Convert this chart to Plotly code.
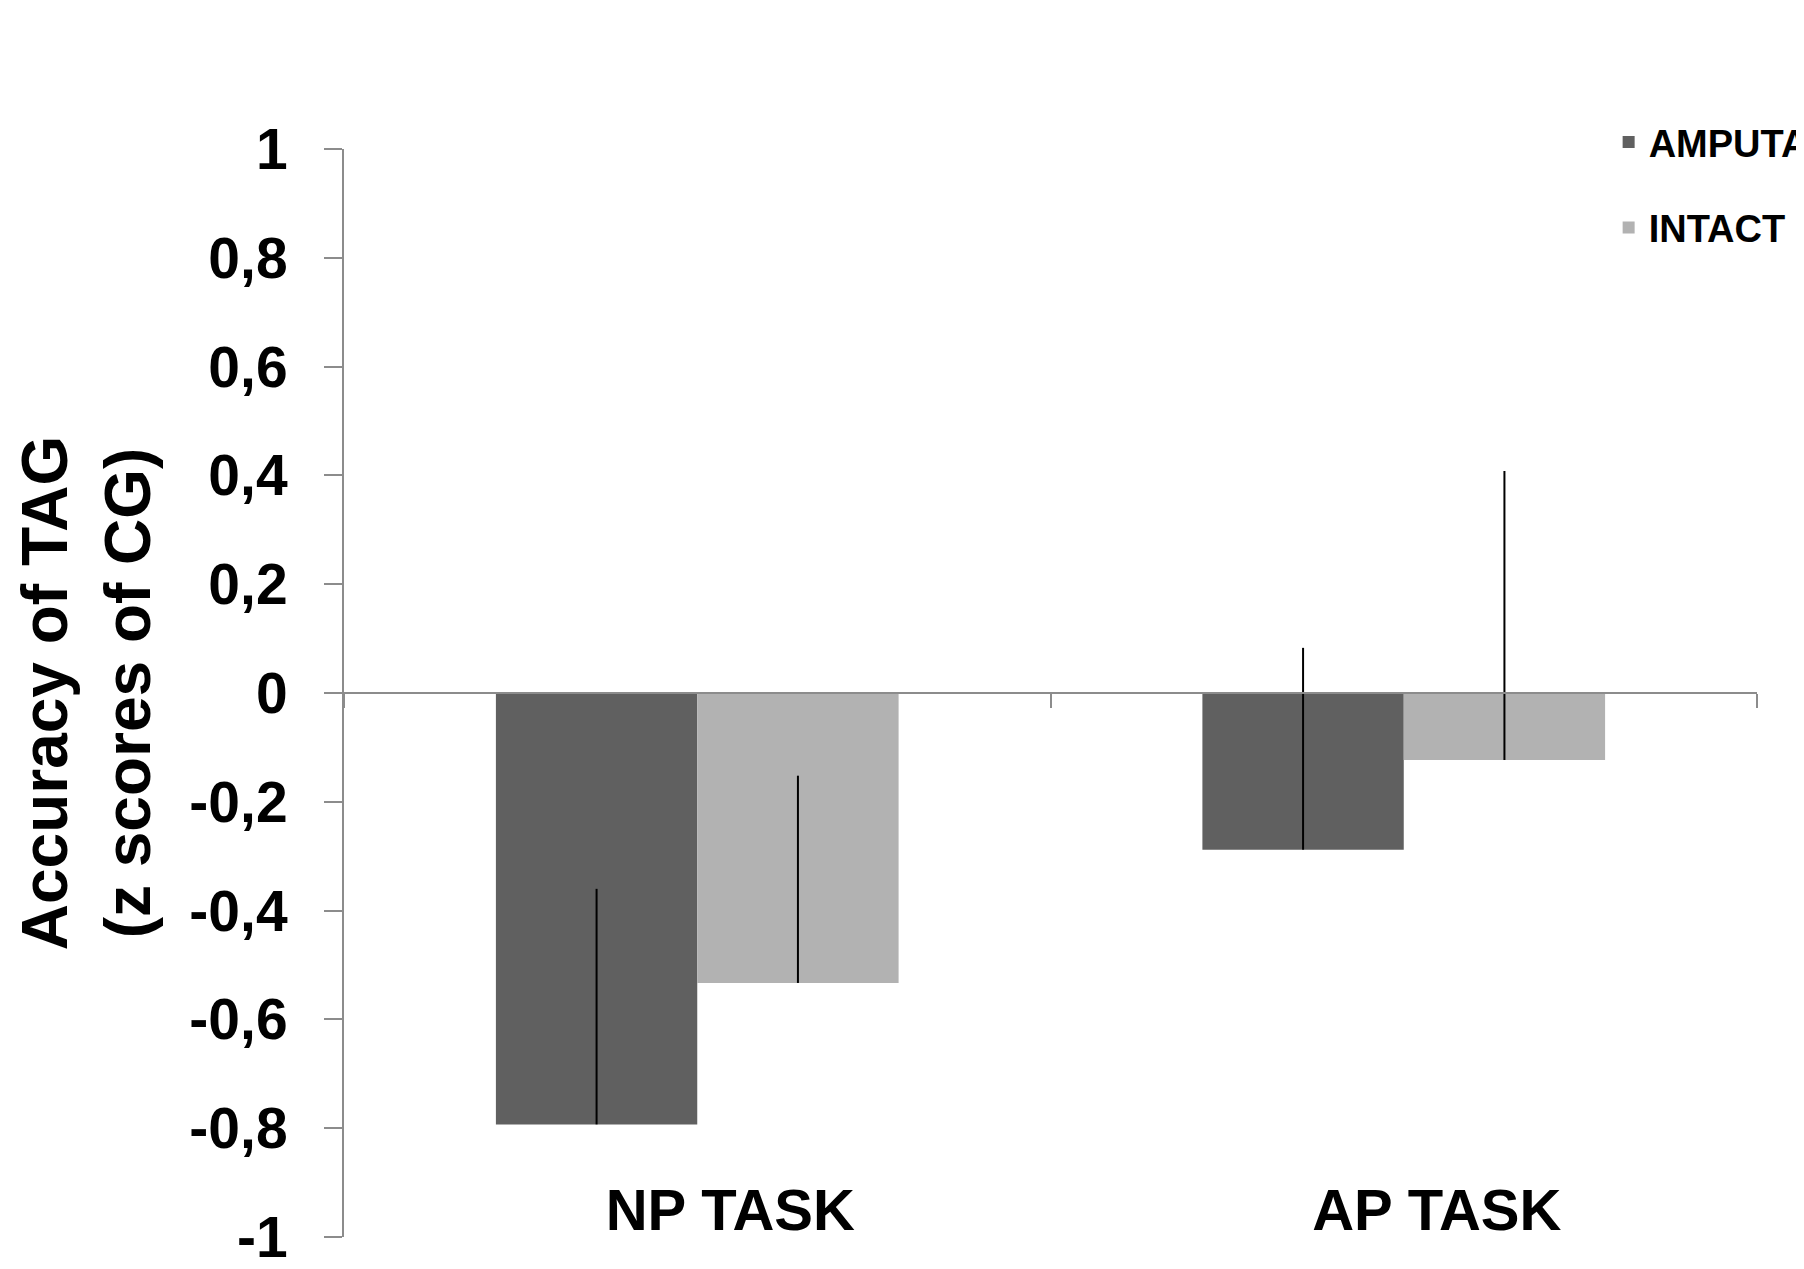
import plotly.graph_objects as go

# data
tasks = ["NP TASK", "AP TASK"]
amputated = [-0.793, -0.288]
intact = [-0.533, -0.123]
amputated_err = [0.433, 0.371]
intact_err = [0.381, 0.531]
no_err = [0, 0]

y_ticks = [1, 0.8, 0.6, 0.4, 0.2, 0, -0.2, -0.4, -0.6, -0.8, -1]
y_labels = ["1", "0,8", "0,6", "0,4", "0,2", "0", "-0,2", "-0,4", "-0,6", "-0,8", "-1"]

FONT = "Liberation Sans, Arial, sans-serif"
AXIS_GREY = "#8c8c8c"

fig = go.Figure()

fig.add_trace(go.Bar(
    x=tasks, y=amputated, name="AMPUTATED",
    marker=dict(color="#606060", line=dict(width=0)),
    error_y=dict(type="data", symmetric=False, array=amputated_err,
                 arrayminus=no_err, color="black", thickness=2, width=0),
    legendgroup="a",
))
fig.add_trace(go.Bar(
    x=tasks, y=intact, name="INTACT",
    marker=dict(color="#b2b2b2", line=dict(width=0)),
    error_y=dict(type="data", symmetric=False, array=intact_err,
                 arrayminus=no_err, color="black", thickness=2, width=0),
    legendgroup="b",
))

fig.update_layout(
    width=1804, height=1269,
    # legend hangs off the right edge like in the original, so no autoexpand
    margin=dict(l=336, r=55, t=141, b=40, autoexpand=False),
    paper_bgcolor="white", plot_bgcolor="white",
    barmode="group", bargap=0.43, bargroupgap=0,
    font=dict(family=FONT, color="black", weight="bold"),
    legend=dict(
        x=0.895, xanchor="left", y=1.035, yanchor="top",
        traceorder="grouped", tracegroupgap=33,
        font=dict(size=38, family=FONT, weight="bold"),
        bgcolor="rgba(0,0,0,0)",
    ),
    xaxis=dict(
        anchor="free", position=0.5,
        showline=True, linecolor=AXIS_GREY, linewidth=2,
        ticks="outside", tickson="boundaries", ticklen=14,
        tickcolor=AXIS_GREY, tickwidth=2,
        showgrid=False, zeroline=False,
        tickfont=dict(size=58, family=FONT, weight="bold"),
        ticklabelstandoff=466, ticklabelshift=33,
    ),
    yaxis=dict(
        range=[-1, 1], tickvals=y_ticks, ticktext=y_labels,
        showline=True, linecolor=AXIS_GREY, linewidth=2,
        ticks="outside", ticklen=18, tickcolor=AXIS_GREY, tickwidth=2,
        showgrid=False, zeroline=False,
        tickfont=dict(size=57, family=FONT, weight="bold"),
        ticklabelstandoff=25,
        title=dict(text="Accuracy of TAG<br>(z scores of CG)",
                   font=dict(size=64, family=FONT, weight="bold"),
                   standoff=18),
    ),
)

fig.write_html("out.html")
